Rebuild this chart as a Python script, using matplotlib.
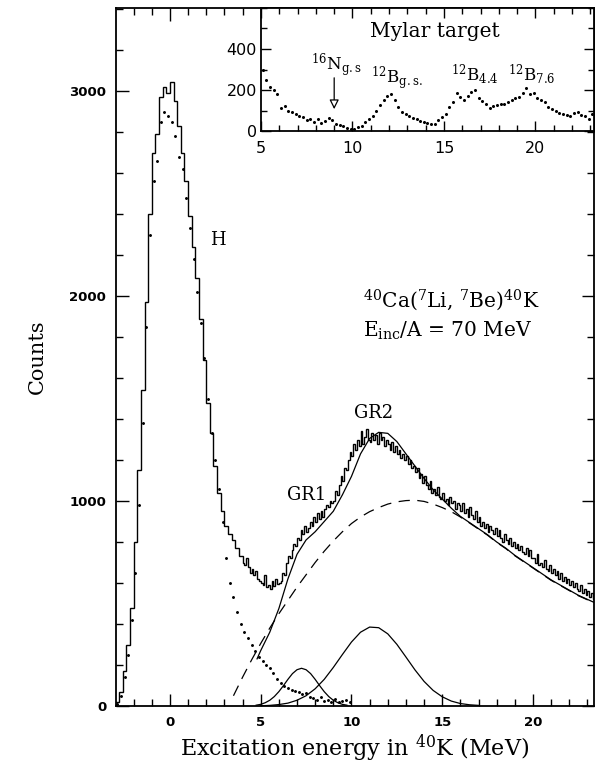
import numpy as np
import matplotlib
matplotlib.use('Agg')
import matplotlib.pyplot as plt
from matplotlib.ticker import MultipleLocator

plt.rcParams['font.family'] = ['DejaVu Serif']
plt.rcParams['mathtext.fontset'] = 'dejavuserif'

# main spectrum: 0.2 MeV bins from -3.0 to 4.0, then 0.1 MeV bins to 23.4
counts_coarse = [
    20, 70, 170, 300, 480, 800, 1150, 1540, 1970, 2400,
    2700, 2790, 2970, 3020, 2990, 3045, 2950, 2830, 2700, 2560,
    2390, 2240, 2090, 1890, 1690, 1480, 1330, 1170, 1040, 950,
    880, 840, 810, 770, 730,
]
counts_fine = [
    700, 690, 720, 680, 650, 670, 640, 660, 620, 610,
    600, 590, 640, 580, 590, 570, 610, 585, 620, 595,
    600, 610, 650, 640, 700, 730, 720, 760, 790, 780,
    820, 810, 860, 840, 880, 850, 870, 900, 880, 920,
    900, 940, 910, 950, 920, 960, 980, 970, 1000, 990,
    1000, 1050, 1030, 1080, 1120, 1100, 1160, 1150, 1200, 1240,
    1220, 1280, 1250, 1300, 1270, 1340, 1280, 1310, 1350, 1300,
    1290, 1330, 1300, 1320, 1280, 1330, 1300, 1310, 1270, 1300,
    1280, 1250, 1290, 1240, 1270, 1230, 1250, 1210, 1230, 1200,
    1220, 1180, 1200, 1160, 1170, 1140, 1160, 1110, 1130, 1090,
    1120, 1080, 1060, 1100, 1040, 1060, 1030, 1070, 1020, 1010,
    1040, 1000, 1010, 980, 1020, 990, 1000, 960, 990, 980,
    950, 990, 940, 960, 920, 970, 930, 910, 950, 900,
    920, 880, 900, 870, 890, 850, 880, 860, 840, 870,
    830, 860, 820, 800, 840, 810, 790, 820, 780, 800,
    770, 790, 760, 780, 750, 740, 770, 730, 760, 720,
    720, 700, 740, 690, 700, 680, 710, 670, 660, 690,
    650, 670, 640, 660, 620, 650, 610, 630, 600, 620,
    590, 610, 580, 600, 570, 560, 590, 550, 570, 540,
    560, 530, 550, 520,
]

# dotted H component (points at 0.2 MeV spacing from -2.9 MeV)
h_start = -2.9
h_counts = [
    10, 50, 140, 250, 420, 650, 980, 1380, 1850, 2300,
    2560, 2660, 2850, 2900, 2880, 2850, 2780, 2680, 2620, 2480,
    2330, 2180, 2020, 1870, 1700, 1500, 1330, 1200, 1060, 900,
    720, 600, 530, 460, 400, 360, 330, 300, 270, 240,
    220, 200, 185, 160, 130, 110, 100, 90, 80, 75,
    70, 60, 65, 45, 40, 30, 45, 25, 30, 20,
    35, 20, 25, 30, 20,
]

# fit curves
fit_e = [4.8, 5.0, 5.5, 6.0, 6.5, 7.0, 7.5, 8.0, 8.5, 9.0, 9.5, 10.0, 10.5,
         11.0, 11.5, 12.0, 12.5, 13.0, 13.5, 14.0, 14.5, 15.0, 15.5, 16.0,
         16.5, 17.0, 17.5, 18.0, 18.5, 19.0, 19.5, 20.0, 20.5, 21.0, 21.5,
         22.0, 22.5, 23.0, 23.5]
fit_total = [230, 270, 360, 475, 620, 740, 810, 850, 900, 950, 1030, 1120, 1230,
             1305, 1335, 1330, 1290, 1230, 1170, 1110, 1055, 1010, 965, 925,
             895, 865, 835, 800, 770, 735, 705, 675, 645, 615, 590,
             565, 540, 520, 500]

bg_e = [3.5, 4.0, 4.5, 5.0, 5.5, 6.0, 6.5, 7.0, 7.5, 8.0, 8.5, 9.0, 9.5,
        10.0, 10.5, 11.0, 11.5, 12.0, 12.5, 13.0, 13.5, 14.0, 14.5, 15.0,
        15.5, 16.0, 16.5, 17.0, 17.5, 18.0, 18.5, 19.0, 19.5, 20.0, 20.5,
        21.0, 21.5, 22.0, 22.5, 23.0, 23.5]
bg = [50, 140, 225, 305, 380, 450, 515, 580, 640, 700, 755, 805, 850,
      890, 922, 948, 968, 985, 996, 1002, 1004, 998, 985, 968,
      948, 922, 893, 863, 833, 798, 768, 733, 703, 673, 643,
      613, 588, 563, 538, 518, 498]

gr1_e = [4.75, 5.0, 5.25, 5.5, 5.75, 6.0, 6.25, 6.5, 6.75, 7.0, 7.25,
         7.5, 7.75, 8.0, 8.25, 8.5, 8.75, 9.0, 9.25, 9.5, 9.75]
gr1 = [4, 8, 16, 28, 46, 70, 99, 130, 158, 177, 184,
       177, 158, 130, 99, 70, 46, 28, 16, 8, 4]

gr2_e = [5.0, 5.5, 6.0, 6.5, 7.0, 7.5, 8.0, 8.5, 9.0, 9.5, 10.0, 10.5, 11.0,
         11.5, 12.0, 12.5, 13.0, 13.5, 14.0, 14.5, 15.0, 15.5, 16.0, 16.5, 17.0]
gr2 = [1, 3, 7, 14, 28, 50, 84, 130, 188, 251, 312, 360, 385,
       382, 352, 301, 239, 176, 120, 76, 45, 24, 12, 6, 3]

# inset: Mylar target spectrum, points every 0.2 MeV from 5.1 MeV
my_start = 5.1
mylar = [
    300, 250, 215, 200, 180, 110, 120, 100, 95, 85,
    75, 70, 55, 60, 45, 60, 40, 50, 65, 55,
    35, 30, 25, 15, 12, 10, 20, 25, 45, 60,
    75, 100, 125, 150, 170, 180, 150, 115, 95, 85,
    75, 65, 60, 50, 45, 40, 35, 35, 55, 70,
    85, 115, 140, 185, 165, 150, 170, 190, 200, 160,
    145, 130, 110, 120, 125, 130, 130, 140, 150, 160,
    165, 185, 210, 180, 185, 160, 150, 140, 115, 105,
    100, 90, 85, 80, 75, 90, 95, 80, 75, 60,
    85, 70,
]

counts = counts_coarse + counts_fine
edges = np.concatenate([-3.0 + 0.2 * np.arange(len(counts_coarse)),
                        4.0 + 0.1 * np.arange(len(counts_fine) + 1)])
h_e = h_start + 0.2 * np.arange(len(h_counts))
my_e = my_start + 0.2 * np.arange(len(mylar))

W, H = 595, 764
fig = plt.figure(figsize=(W / 100, H / 100), dpi=100)
ax = fig.add_axes([116 / W, 58 / H, 478 / W, 698 / H])

ax.stairs(counts, edges, color='k', lw=1.0)
ax.plot(h_e, h_counts, ls='none', marker='o', ms=1.1, color='k')
ax.plot(fit_e, fit_total, color='k', lw=0.9)
ax.plot(bg_e, bg, color='k', lw=0.9, ls=(0, (9, 6)))
ax.plot(gr1_e, gr1, color='k', lw=0.9)
ax.plot(gr2_e, gr2, color='k', lw=0.9)

ax.set_xlim(-2.97, 23.36)
ax.set_ylim(0, 3405)
ax.xaxis.set_major_locator(MultipleLocator(5))
ax.xaxis.set_minor_locator(MultipleLocator(1))
ax.yaxis.set_major_locator(MultipleLocator(1000))
ax.yaxis.set_minor_locator(MultipleLocator(200))
ax.tick_params(which='both', direction='in', top=True, right=True, width=1)
ax.tick_params(which='major', length=9, pad=7)
ax.tick_params(which='minor', length=5)
for lab in ax.get_xticklabels() + ax.get_yticklabels():
    lab.set_fontfamily('DejaVu Sans')
    lab.set_fontweight('bold')
    lab.set_fontsize(9.5)
for s in ax.spines.values():
    s.set_linewidth(1.3)

ax.set_xlabel(r'Excitation energy in $^{40}$K (MeV)', fontsize=16, labelpad=3)
ax.set_ylabel('Counts', fontsize=15, labelpad=16)

ax.text(2.2, 2249, 'H', fontsize=13, va='baseline')
ax.text(10.15, 1405, 'GR2', fontsize=13, va='baseline')
ax.text(6.45, 1005, 'GR1', fontsize=13, va='baseline')
ax.text(10.63, 1946, r'$^{40}$Ca($^{7}$Li, $^{7}$Be)$^{40}$K', fontsize=14.5, va='baseline')
ax.text(10.63, 1800, r'E$_{\rm inc}$/A = 70 MeV', fontsize=14.5, va='baseline')

# inset
axi = fig.add_axes([261 / W, 633 / H, 333 / W, 123 / H])
axi.plot(my_e, mylar, ls='none', marker='o', ms=1.2, color='k')
axi.set_xlim(5, 23.2)
axi.set_ylim(0, 600)
axi.xaxis.set_major_locator(MultipleLocator(5))
axi.xaxis.set_minor_locator(MultipleLocator(1))
axi.yaxis.set_minor_locator(MultipleLocator(100))
axi.set_yticks([0, 200, 400])
axi.tick_params(which='both', direction='in', top=True, right=True, width=1)
axi.tick_params(which='major', length=7, pad=3)
axi.tick_params(which='minor', length=4)
axi.tick_params(axis='x', pad=7)
for lab in axi.get_xticklabels() + axi.get_yticklabels():
    lab.set_fontfamily('DejaVu Sans')
    lab.set_fontsize(11.5)
for s in axi.spines.values():
    s.set_linewidth(1.3)

axi.text(14.5, 458, 'Mylar target', fontsize=14.5, ha='center', va='baseline')
axi.text(7.73, 298, r'$^{16}$N$_{\rm g.s}$', fontsize=12, va='baseline')
axi.text(11.0, 234, r'$^{12}$B$_{\rm g.s.}$', fontsize=12, va='baseline')
axi.text(15.38, 249, r'$^{12}$B$_{4.4}$', fontsize=12, va='baseline')
axi.text(18.5, 249, r'$^{12}$B$_{7.6}$', fontsize=12, va='baseline')
arrow_x, arrow_top, arrow_tip = 9.0, 273, 93
axi.annotate('', xy=(arrow_x, arrow_tip), xytext=(arrow_x, arrow_top),
             arrowprops=dict(arrowstyle='-|>', fc='white', ec='k', lw=0.9,
                             mutation_scale=14))

fig.savefig('out.png', dpi=100)
